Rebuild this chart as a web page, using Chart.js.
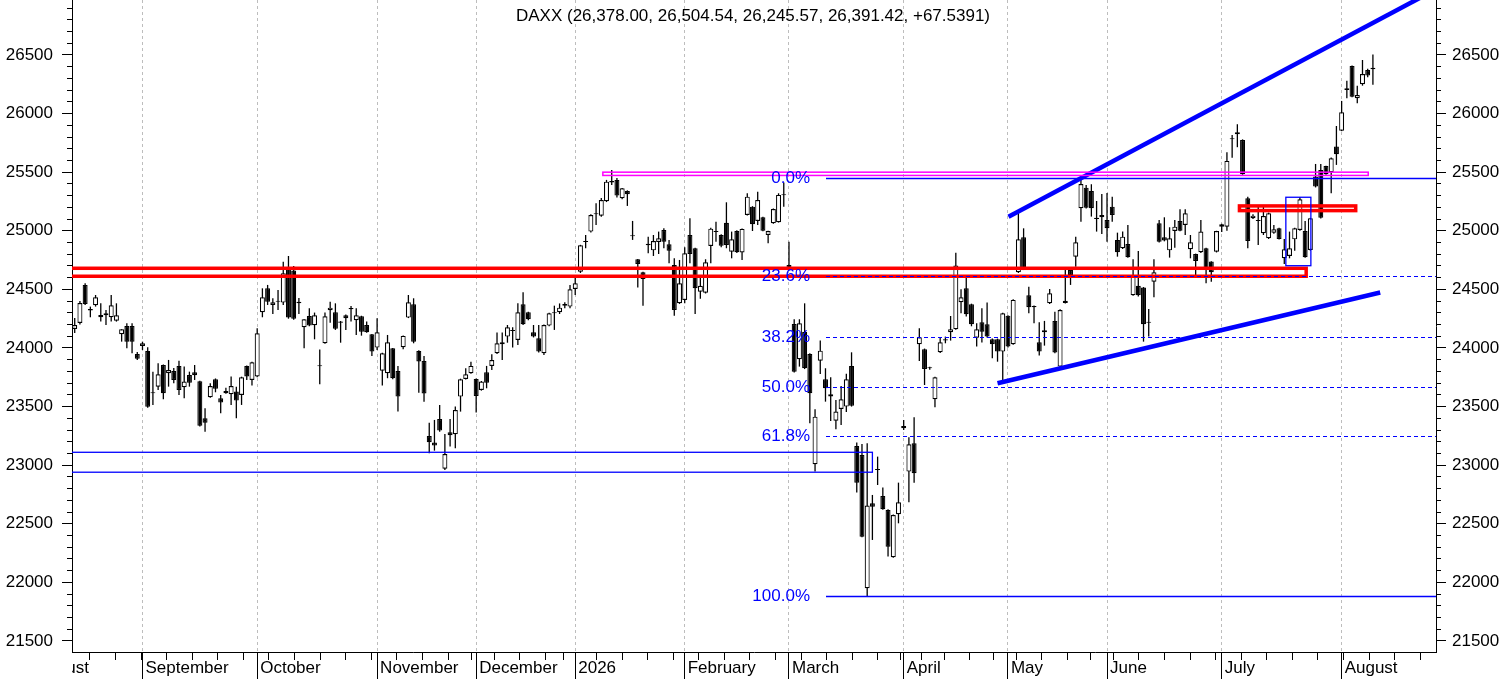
<!DOCTYPE html>
<html lang="en">
<head>
    <meta charset="UTF-8">
    <title>DAXX daily</title>
    <script src="https://cdn.jsdelivr.net/npm/chart.js"></script>
    <style>
        body {
            margin: 0;
            background: #ffffff;
            overflow: hidden;
        }
        canvas {
            display: block;
        }
    </style>
</head>
<body>
    <canvas id="daxChart" width="1506" height="679"></canvas>
    <script>
        const FONT = "'Liberation Sans', Arial, sans-serif";

        // Daily candles, 13 Aug 2025 .. 11 Aug 2026 (one row per month)
        const opens = [
            24162,24213,24538,24333,24364,24262,24279,24262,24233,24117,24188,24188,23949,
            24017,23975,23614,23670,23855,23784,23804,23847,23665,23770,23793,23716,23400,23580,23733,23571,23614,23605,23628,23599,23847,23727,
            23756,24305,24509,24367,24395,24387,24690,24660,24395,24177,24273,24194,23850,24040,24322,24305,24225,24279,24341,24236,24270,24196,24117,
            24003,23806,23784,23998,23804,24006,24259,24373,23975,23889,23249,23193,23394,22970,23281,23264,23585,23736,23784,
            23736,23642,23793,23847,23955,24032,24097,24145,24068,24373,24305,24134,24083,23955,24191,24296,24305,24376,24353,
            24504,24651,24904,24993,25140,25129,25252,25425,25434,25277,25340,24958,24757,24646,24890,24833,24904,25007,24885,24708,24381,
            24410,24964,24851,24480,24472,24870,24990,24964,25069,24822,24998,24814,25135,25206,25084,25115,24964,25064,25073,25303,
            24708,24205,23904,24139,23949,23008,23892,23733,23585,23380,23480,23500,23847,23164,23087,21950,22675,22965,22737,22618,22214,22581,
            23335,22945,23187,24032,23989,23830,23563,23963,24074,24134,24160,24390,24509,24373,24088,24219,24202,24074,24074,23969,
            24276,24032,24646,24944,24450,24358,24049,24134,24381,24231,23841,24384,24666,24779,25192,25368,25340,25112,25135,
            25092,25206,24922,24851,24887,24450,24530,24515,24219,24566,25064,24944,24833,24998,25084,25050,24842,24802,24817,24851,24737,24822,
            25035,25035,25789,25823,25775,25277,25107,25087,24979,24936,24984,25021,24765,24785,24927,25007,24998,24836,25462,25519,25553,25499,25718,
            25854,26201,26406,26131,26250,26372,26378.00
        ];
        const highs = [
            24256,24400,24552,24353,24452,24381,24324,24452,24381,24160,24211,24211,23966,
            24054,24006,23798,23870,23860,23898,23830,23892,23841,23798,23855,23720,23486,23700,23740,23599,23660,23756,23670,23755,23850,23883,
            24168,24509,24538,24424,24495,24736,24785,24700,24427,24245,24339,24302,23986,24302,24395,24381,24230,24285,24358,24339,24275,24225,24120,
            24253,23960,24111,24000,23847,24106,24452,24424,23980,23932,23363,23386,23514,23267,23394,23500,23738,23827,23883,
            23740,23718,23847,23946,24131,24131,24196,24177,24381,24475,24310,24196,24196,24200,24300,24361,24380,24390,24538,
            24609,24880,24964,25140,25235,25280,25434,25519,25451,25365,25345,25084,24760,24650,24950,24964,24993,25021,24922,24765,24751,
            24859,25106,24855,24600,24757,25025,25078,24970,25243,24993,25005,25020,25320,25210,25334,25120,25000,25190,25320,25411,
            24907,24245,24245,24381,23955,23477,24063,23827,23750,23556,23676,23781,23963,23193,23181,23187,22746,23073,22809,22625,22580,22851,
            23386,23238,23409,24168,23995,23840,23755,24088,24097,24273,24813,24501,24609,24378,24211,24339,24387,24080,24080,24300,
            24280,24415,25163,25021,24523,24362,24219,24231,24503,24310,24330,24666,24670,24950,25462,25391,25397,25254,25314,
            25323,25291,24984,24993,25050,24757,24828,24520,24333,24757,25092,25115,25030,25092,25183,25183,24964,24805,25092,24855,24740,25000,
            25060,25670,25817,25909,25780,25291,25140,25206,25215,25155,25050,25025,24930,24993,25025,25288,25084,25110,25570,25570,25555,25625,25894,
            26108,26281,26410,26238,26457,26383,26504.54
        ];
        const lows = [
            24128,24200,24367,24262,24353,24225,24196,24225,24225,24054,23998,23955,23898,
            23983,23490,23514,23642,23563,23670,23700,23599,23571,23670,23727,23329,23286,23575,23622,23443,23610,23514,23400,23514,23727,23679,
            23750,24262,24367,24290,24324,24367,24250,24240,24290,23998,24185,24074,23690,24035,24216,24154,24045,24154,24225,24111,24105,24130,23932,
            23983,23679,23742,23733,23457,23989,24255,24040,23619,23542,23102,23124,23286,22959,23159,23145,23457,23730,23780,
            23449,23636,23656,23812,23949,23898,24045,24003,24026,24196,24236,24090,23961,23940,24185,24154,24290,24340,24340,
            24452,24640,24851,24985,25050,25120,25245,25391,25283,25270,25212,24922,24515,24361,24808,24785,24802,24851,24723,24276,24376,
            24381,24723,24290,24420,24465,24723,24907,24860,24851,24765,24810,24751,25130,24998,25050,24995,24893,25060,25070,25206,
            24660,23790,23841,23820,23358,22945,23778,23542,23377,23306,23343,23454,23500,22766,22385,21878,22362,22831,22620,22220,22210,22504,
            23300,22683,22851,23889,23684,23815,23494,23958,24040,24063,24155,24296,24268,24185,24012,24046,24090,23912,23883,23704,
            24005,24028,24640,24665,24296,24211,23935,24020,24376,23955,23830,24380,24538,24694,25078,25190,25121,24993,24973,
            24907,25078,24779,24845,24770,24445,24440,24054,24097,24433,24900,24910,24771,24856,24995,24964,24765,24614,24810,24552,24566,24815,
            24990,25001,25624,25713,25478,24851,25100,24879,24964,24930,24975,24925,24717,24765,24830,25000,24770,24830,25370,25105,25478,25320,25562,
            25850,26131,26140,26088,26238,26310,26245.57
        ];
        const closes = [
            24196,24384,24375,24320,24433,24282,24296,24364,24279,24160,24054,24054,23909,
            24040,23499,23620,23776,23614,23812,23727,23642,23713,23704,23767,23337,23363,23676,23653,23534,23633,23676,23551,23750,23756,23878,
            24125,24433,24395,24390,24400,24637,24260,24250,24381,24245,24191,24279,23845,24270,24344,24165,24216,24253,24330,24279,24139,24134,23969,
            24134,23955,24049,23742,23585,24103,24390,24054,23884,23611,23196,23167,23295,23096,23256,23471,23733,23776,23847,
            23591,23713,23704,23898,24040,24049,24177,24151,24305,24202,24245,24097,23969,24196,24296,24302,24344,24361,24501,
            24552,24876,24910,25135,25146,25263,25419,25411,25300,25363,25311,24953,24717,24589,24876,24913,24936,24907,24830,24324,24552,
            24808,24802,24509,24530,24731,25018,24996,24873,24879,24928,24817,25016,25291,25056,25263,25001,24998,25186,25306,25311,
            24666,23798,24211,23827,23614,23414,23977,23656,23605,23457,23563,23733,23508,22851,22390,22655,22646,22959,22624,22305,22575,22683,
            23315,23178,22931,24091,23821,23827,23750,24049,24063,24160,24703,24433,24288,24202,24160,24139,24097,24032,23969,24296,
            24012,24410,24928,24672,24347,24347,23969,24151,24467,23961,24324,24404,24623,24902,25399,25197,25192,25101,25115,
            25021,25135,24817,24950,24774,24614,24450,24202,24216,24646,24907,24916,24936,25035,25001,25149,24902,24742,24993,24666,24646,24998,
            25056,25596,25780,25840,25482,24913,25129,25084,25126,25149,25013,24930,24842,24851,25021,25269,24774,25107,25377,25112,25482,25619,25653,
            26011,26216,26144,26159,26338,26324,26391.42
        ];

        // time axis: candle index of the first session of each month, and Monday ticks
        const monthIdx = [13, 35, 58, 77, 96, 117, 137, 159, 179, 198, 220, 243];
        const monthNames = ['September', 'October', 'November', 'December', '2026', 'February',
                            'March', 'April', 'May', 'June', 'July', 'August'];
        const weekIdx = [3, 8, 13, 18, 23, 28, 33, 38, 43, 48, 53, 58, 63, 68, 73, 77, 82, 87, 92, 94,
                         97, 102, 107, 112, 117, 122, 127, 132, 137, 142, 147, 152, 157, 161, 165, 170,
                         175, 179, 184, 189, 194, 198, 203, 208, 213, 218, 223, 228, 233, 238, 243, 248,
                         253, 258];
        const leadMonth = 'August';
        const leadMonthIdx = -8;

        const yTicks = [21500, 22000, 22500, 23000, 23500, 24000, 24500, 25000, 25500, 26000, 26500];
        const yMinor = [];
        for (let v = 21500; v <= 26900; v += 100) yMinor.push(v);

        const X_MIN = -0.52, X_MAX = 261.1;
        const Y_MIN = 21406, Y_MAX = 26969;

        // drawn objects: [x from, x to, level top, level bottom]
        const redBand = [-10, 236.2, 24680, 24612];
        const redBox = [223.4, 245.7, 25212, 25172];
        const magentaBox = [101.3, 248.1, 25500, 25472];
        const blueBox = [-10, 153.0, 23110, 22940];
        const blueBoxJuly = [232.3, 237.1, 25286, 24702];
        const upperTrend = [[179.1, 25120], [258.1, 26989]];
        const lowerTrend = [[177.0, 23699], [250.4, 24473]];

        // Fibonacci retracement
        const fibHigh = 25453, fibLow = 21884, fibStart = 144.1;
        const fibLevels = [0, 0.236, 0.382, 0.5, 0.618, 1];
        const fibLabels = ['0.0%', '23.6%', '38.2%', '50.0%', '61.8%', '100.0%'];

        const titleText = 'DAXX (26,378.00, 26,504.54, 26,245.57, 26,391.42, +67.5391)';

        const bodies = opens.map((o, i) => ({x: i, y: [o, closes[i]]}));
        const wicks = opens.map((o, i) => ({x: i, y: [lows[i], highs[i]]}));
        const bodyFill = opens.map((o, i) => closes[i] >= o ? '#ffffff' : '#000000');

        const fitTo = (w, h) => s => {
            if (w !== null) s.width = w;
            if (h !== null) s.height = h;
            s.paddingTop = s.paddingBottom = s.paddingLeft = s.paddingRight = 0;
        };
        const setTicks = list => s => { s.ticks = list.map(v => ({value: v})); };

        const overlay = {
            id: 'overlay',
            afterDatasetsDraw(chart) {
                const {ctx, chartArea: a, scales: {x, y}} = chart;
                const px = v => x.getPixelForValue(v);
                const py = v => y.getPixelForValue(v);
                const box = (b, color, width) => {
                    ctx.strokeStyle = color;
                    ctx.lineWidth = width;
                    ctx.strokeRect(px(b[0]), py(b[2]), px(b[1]) - px(b[0]), py(b[3]) - py(b[2]));
                };
                ctx.save();
                ctx.beginPath();
                ctx.rect(a.left, a.top, a.right - a.left, a.bottom - a.top);
                ctx.clip();

                box(blueBox, '#0000ff', 1.3);
                box(redBand, '#ff0000', 3.5);
                box(redBox, '#ff0000', 3.5);
                box(blueBoxJuly, '#0000ff', 1.3);
                box(magentaBox, '#ff00ff', 1.5);

                const range = fibHigh - fibLow;
                ctx.font = '17px ' + FONT;
                ctx.textAlign = 'right';
                ctx.textBaseline = 'middle';
                fibLevels.forEach((lvl, i) => {
                    const solid = lvl === 0 || lvl === 1;
                    const yy = Math.round(py(fibHigh - lvl * range)) + 0.5;
                    ctx.beginPath();
                    ctx.setLineDash(solid ? [] : [4, 3]);
                    ctx.lineWidth = solid ? 1.3 : 1;
                    ctx.strokeStyle = '#0000ff';
                    ctx.moveTo(px(fibStart), yy);
                    ctx.lineTo(a.right, yy);
                    ctx.stroke();
                    ctx.fillStyle = '#0000ff';
                    ctx.fillText(fibLabels[i], px(fibStart) - 16, yy);
                });
                ctx.setLineDash([]);
                ctx.restore();
            },
            afterDraw(chart) {
                const {ctx, chartArea: a, scales: {x}} = chart;
                ctx.save();
                ctx.font = '17px ' + FONT;
                ctx.fillStyle = '#000';
                ctx.textAlign = 'center';
                ctx.textBaseline = 'middle';
                ctx.fillText(titleText, chart.width / 2, 16);

                // month label that started before the first candle
                ctx.beginPath();
                ctx.rect(a.left, a.bottom, 200, chart.height - a.bottom);
                ctx.clip();
                ctx.textAlign = 'left';
                ctx.fillText(leadMonth, x.getPixelForValue(leadMonthIdx) + 3, a.bottom + 16);
                ctx.restore();
            }
        };

        Chart.defaults.font.family = FONT;
        Chart.defaults.font.size = 17;
        Chart.defaults.color = '#000';

        const ctx = document.getElementById('daxChart').getContext('2d');
        const daxChart = new Chart(ctx, {
            type: 'bar',
            data: {
                datasets: [
                    {
                        label: 'trend up',
                        type: 'line',
                        data: upperTrend.map(p => ({x: p[0], y: p[1]})),
                        borderColor: '#0000ff',
                        borderWidth: 4.5,
                        pointRadius: 0,
                        order: 0
                    },
                    {
                        label: 'trend low',
                        type: 'line',
                        data: lowerTrend.map(p => ({x: p[0], y: p[1]})),
                        borderColor: '#0000ff',
                        borderWidth: 4.5,
                        pointRadius: 0,
                        order: 0
                    },
                    {
                        label: 'body',
                        data: bodies,
                        backgroundColor: bodyFill,
                        borderColor: '#000000',
                        borderWidth: 1.2,
                        borderSkipped: false,
                        grouped: false,
                        barPercentage: 1,
                        categoryPercentage: 1,
                        maxBarThickness: 5,
                        minBarLength: 1,
                        inflateAmount: 0,
                        order: 1
                    },
                    {
                        label: 'wick',
                        data: wicks,
                        backgroundColor: '#000000',
                        borderWidth: 0,
                        grouped: false,
                        barPercentage: 1,
                        categoryPercentage: 1,
                        maxBarThickness: 1.3,
                        inflateAmount: 0,
                        order: 2
                    }
                ]
            },
            options: {
                responsive: false,
                animation: false,
                events: [],
                layout: {padding: 0, autoPadding: false},
                plugins: {
                    legend: {display: false},
                    tooltip: {enabled: false},
                    title: {display: false}
                },
                scales: {
                    x: {
                        type: 'linear',
                        axis: 'x',
                        position: 'bottom',
                        min: X_MIN,
                        max: X_MAX,
                        offset: false,
                        afterBuildTicks: setTicks(monthIdx),
                        afterFit: fitTo(null, 27),
                        ticks: {
                            autoSkip: false,
                            maxRotation: 0,
                            minRotation: 0,
                            align: 'start',
                            labelOffset: 3,
                            padding: -21,
                            color: '#000',
                            font: {size: 17},
                            callback: (v, i) => monthNames[i]
                        },
                        grid: {
                            offset: false,
                            color: '#bdbdbd',
                            lineWidth: 1,
                            tickColor: '#000',
                            tickLength: 27,
                            tickWidth: 1
                        },
                        border: {display: true, color: '#000', width: 1, dash: [3, 3]}
                    },
                    xw: {
                        type: 'linear',
                        axis: 'x',
                        position: {y: Y_MIN},
                        min: X_MIN,
                        max: X_MAX,
                        afterBuildTicks: setTicks(weekIdx),
                        afterFit: fitTo(null, 0),
                        ticks: {display: false},
                        grid: {drawOnChartArea: false, color: '#000', tickColor: '#000', tickLength: 8},
                        border: {display: false}
                    },
                    y: {
                        type: 'linear',
                        axis: 'y',
                        position: 'left',
                        weight: 1,
                        min: Y_MIN,
                        max: Y_MAX,
                        beginAtZero: false,
                        afterBuildTicks: setTicks(yTicks),
                        afterFit: fitTo(72, null),
                        ticks: {padding: 9, color: '#000', font: {size: 17}, callback: v => String(v)},
                        grid: {drawOnChartArea: false, color: '#000', tickColor: '#000', tickLength: 10},
                        border: {display: true, color: '#000', width: 1}
                    },
                    ym: {
                        type: 'linear',
                        axis: 'y',
                        position: 'left',
                        weight: 0,
                        min: Y_MIN,
                        max: Y_MAX,
                        afterBuildTicks: setTicks(yMinor),
                        afterFit: fitTo(0, null),
                        ticks: {display: false},
                        grid: {drawOnChartArea: false, color: '#000', tickColor: '#000', tickLength: 5},
                        border: {display: false}
                    },
                    y2: {
                        type: 'linear',
                        axis: 'y',
                        position: 'right',
                        weight: 1,
                        min: Y_MIN,
                        max: Y_MAX,
                        afterBuildTicks: setTicks(yTicks),
                        afterFit: fitTo(70, null),
                        ticks: {padding: 6, color: '#000', font: {size: 17}, callback: v => String(v)},
                        grid: {drawOnChartArea: false, color: '#000', tickColor: '#000', tickLength: 10},
                        border: {display: true, color: '#000', width: 1}
                    },
                    y2m: {
                        type: 'linear',
                        axis: 'y',
                        position: 'right',
                        weight: 0,
                        min: Y_MIN,
                        max: Y_MAX,
                        afterBuildTicks: setTicks(yMinor),
                        afterFit: fitTo(0, null),
                        ticks: {display: false},
                        grid: {drawOnChartArea: false, color: '#000', tickColor: '#000', tickLength: 5},
                        border: {display: false}
                    }
                }
            },
            plugins: [overlay]
        });
    </script>
</body>
</html>
